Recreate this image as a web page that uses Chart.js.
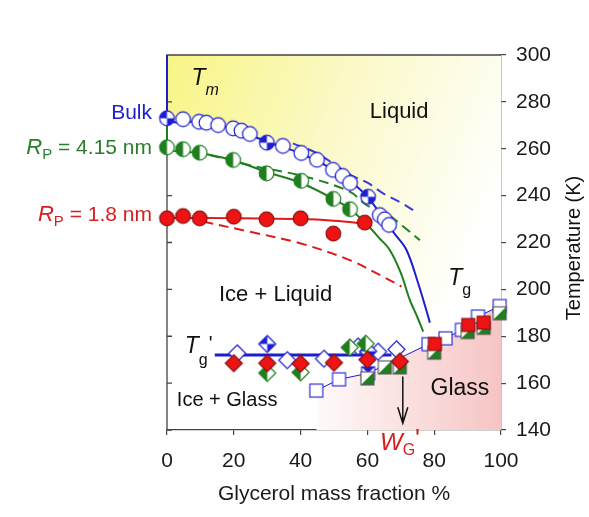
<!DOCTYPE html>
<html>
<head>
<meta charset="utf-8">
<style>
  html, body { margin: 0; padding: 0; background: #fff; }
  #caixa { width: 589px; height: 517px; position: relative; }
</style>
<script src="https://cdn.jsdelivr.net/npm/chart.js@4/dist/chart.umd.min.js"></script>
</head>
<body>
<div id="caixa"><canvas id="grafico"></canvas></div>
<script>
const ticksX = [0, 20, 40, 60, 80, 100];
const ticksY = [140, 160, 180, 200, 220, 240, 260, 280, 300];

// Tm - bulk (círculos abertos e círculos com quartos)
const bulkX = [4.8, 9.6, 11.8, 15.3, 19.8, 22.3, 24.8, 34.7, 40.2, 44.9, 49.7, 52.6, 54.8, 63.7, 65.2, 66.5];
const bulkT = [272.6, 271.5, 271.1, 270.1, 268.7, 267.7, 266.3, 261.2, 258.2, 255.3, 251, 248.4, 245.4, 231.7, 229.9, 227.5];
const bulkMeioX = [0, 29.9, 60.2];
const bulkMeioT = [273, 262.6, 239.5];

// Tm - Rp = 4.15 nm e Rp = 1.8 nm
const rp415X = [0, 4.8, 9.8, 19.8, 29.8, 40.2, 49.8, 54.8];
const rp415T = [260.6, 259.8, 258.3, 255.2, 249.5, 246.3, 238.6, 234.2];
const rp18X = [0, 4.8, 9.8, 20, 29.8, 40, 49.8, 59.2];
const rp18T = [230.3, 231.3, 230.3, 231, 229.9, 230.3, 223.8, 228.5];

// curvas de ajuste (linhas cheias)
const ajusteBulkX = [0, 0, 10, 20, 30, 40, 50, 55, 60, 65, 68, 71.7, 75.2, 78.2, 78.7];
const ajusteBulkT = [300, 273, 271.5, 268.5, 263, 258, 251, 246, 239.5, 230, 224, 216.8, 202.6, 188.4, 185.8];
const ajuste415X = [0, 0, 10, 20, 30, 40, 50, 55, 60, 63.5, 66.7, 70, 72.7, 75, 76.7];
const ajuste415T = [273, 260.6, 258.2, 255, 250, 245.5, 238.5, 234, 227.5, 222, 216.8, 207, 195.5, 188, 182];
const ajuste18X = [0, 20, 40, 50, 60];
const ajuste18T = [230.5, 230.4, 230, 229.3, 228];

// curvas tracejadas
const tracoBulkX = [37.7, 45, 54.7, 60, 64.7, 70, 75.2];
const tracoBulkT = [262.3, 258, 249, 245.5, 241, 237, 232.5];
const traco415X = [12.8, 24.8, 41.7, 54.7, 59.7, 66, 71, 75.7];
const traco415T = [257.3, 253, 248, 241.7, 236, 232, 226.5, 221];
const traco18X = [10.8, 24.8, 39.8, 54.7, 64.7, 70.2];
const traco18T = [228.9, 224.6, 219.7, 212.5, 205.4, 201.2];

// Tg' (losangos)
const tglLinhaX = [14.3, 67.2];
const tglLinhaT = [172, 172];
const tglBulkX = [21, 36, 47, 57.2, 63.2, 68.7];
const tglBulkT = [172.7, 169.8, 170.4, 175.6, 173.4, 174.4];
const tglBulkMeioX = [30, 60.2];
const tglBulkMeioT = [176.7, 173.6];
const tgl415X = [30, 40, 54.7, 59.5];
const tgl415T = [164.3, 164.6, 175.2, 176.8];
const tgl18X = [20, 30, 40, 50, 60, 69.7];
const tgl18T = [168.5, 168.5, 168.3, 168.7, 170, 169.2];

// Tg (quadrados)
const tgBulkX = [44.7, 51.5, 60.2, 78.3, 83.4, 88.3, 93.1, 99.6];
const tgBulkT = [156.8, 161.6, 164.2, 176.6, 179.1, 182.7, 188.4, 192.9];
const tg415X = [60, 65.2, 69.7, 80, 90, 94.8, 99.6];
const tg415T = [162, 166.7, 166.7, 173, 181.8, 183.6, 189.8];
const tg18X = [80.2, 90.2, 94.8];
const tg18T = [176.7, 184.8, 185.8];

// limites das regiões coloridas
const liquidoX = [0, 10, 20, 30, 40, 50, 55, 60, 65, 68, 71.7, 75.2, 78.2, 78.7, 78.3, 83.4, 88.3, 93.1, 99.6, 100];
const liquidoT = [273, 271.5, 268.5, 263, 258, 251, 246, 239.5, 230, 224, 216.8, 202.6, 188.4, 185.8, 176.6, 179.1, 182.7, 188.4, 192.9, 193.2];
const vidroX = [44.7, 51.5, 60.2, 78.3, 83.4, 88.3, 93.1, 99.6, 100];
const vidroT = [156.8, 161.6, 164.2, 176.6, 179.1, 182.7, 188.4, 192.9, 193.2];

const AZUL = '#1d1dd2';
const VERDE = '#1f7f1f';
const VERMELHO = '#ee1414';
const FONTE = '"Liberation Sans", Arial, sans-serif';

function pontos(xs, ts) {
  return xs.map((x, i) => ({ x: x, y: ts[i] }));
}

function novoMarcador(tam, desenho) {
  const c = document.createElement('canvas');
  c.width = tam;
  c.height = tam;
  desenho(c.getContext('2d'), tam / 2);
  return c;
}

function circulo(cor, tipo) {
  return novoMarcador(19, (g, c) => {
    const r = 7.3;
    g.beginPath(); g.arc(c, c, r, 0, Math.PI * 2);
    g.fillStyle = tipo === 'cheio' ? cor : '#fff';
    g.fill();
    g.fillStyle = cor;
    if (tipo === 'quartos') {
      g.beginPath(); g.moveTo(c, c); g.arc(c, c, r, Math.PI, Math.PI * 1.5); g.closePath(); g.fill();
      g.beginPath(); g.moveTo(c, c); g.arc(c, c, r, 0, Math.PI * 0.5); g.closePath(); g.fill();
    }
    if (tipo === 'meio') {
      g.beginPath(); g.moveTo(c, c); g.arc(c, c, r, Math.PI * 0.5, Math.PI * 1.5); g.closePath(); g.fill();
    }
    g.beginPath(); g.arc(c, c, r, 0, Math.PI * 2);
    g.lineWidth = 1.2;
    g.strokeStyle = tipo === 'cheio' ? '#8a1010' : cor;
    g.stroke();
  });
}

function losango(cor, tipo) {
  return novoMarcador(21, (g, c) => {
    const h = 8.5;
    const caminho = () => {
      g.beginPath(); g.moveTo(c, c - h); g.lineTo(c + h, c); g.lineTo(c, c + h); g.lineTo(c - h, c); g.closePath();
    };
    caminho();
    g.fillStyle = tipo === 'cheio' ? cor : '#fff';
    g.fill();
    g.fillStyle = cor;
    if (tipo === 'quartos') {
      g.beginPath(); g.moveTo(c, c); g.lineTo(c, c - h); g.lineTo(c - h, c); g.closePath(); g.fill();
      g.beginPath(); g.moveTo(c, c); g.lineTo(c + h, c); g.lineTo(c, c + h); g.closePath(); g.fill();
    }
    if (tipo === 'meio') {
      g.beginPath(); g.moveTo(c, c - h); g.lineTo(c, c + h); g.lineTo(c - h, c); g.closePath(); g.fill();
    }
    caminho();
    g.lineWidth = 1.2;
    g.strokeStyle = tipo === 'cheio' ? '#8a1010' : cor;
    g.stroke();
  });
}

function quadrado(cor, tipo) {
  return novoMarcador(17, (g, c) => {
    const a = 6.5;
    const x0 = c - a, x1 = c + a, y0 = c - a, y1 = c + a;
    g.fillStyle = tipo === 'cheio' ? cor : '#fff';
    g.fillRect(x0, y0, 2 * a, 2 * a);
    g.fillStyle = cor;
    if (tipo === 'laco') {
      g.beginPath(); g.moveTo(x0, y0); g.lineTo(x1, y0); g.lineTo(c, c); g.closePath(); g.fill();
      g.beginPath(); g.moveTo(x0, y1); g.lineTo(x1, y1); g.lineTo(c, c); g.closePath(); g.fill();
    }
    if (tipo === 'meio') {
      g.beginPath(); g.moveTo(x1, y0); g.lineTo(x1, y1); g.lineTo(x0, y1); g.closePath(); g.fill();
    }
    g.lineWidth = 1.1;
    g.strokeStyle = tipo === 'cheio' ? '#8a1010' : (tipo === 'meio' ? '#555' : cor);
    g.strokeRect(x0, y0, 2 * a, 2 * a);
  });
}

function marcadores(xs, ts, estilo) {
  return {
    type: 'scatter',
    data: pontos(xs, ts),
    pointStyle: estilo,
    pointRadius: 8,
    clip: false
  };
}

function curva(xs, ts, cor, tracejado, largura) {
  return {
    type: 'line',
    data: pontos(xs, ts),
    borderColor: cor,
    borderWidth: largura || 2,
    borderDash: tracejado ? [10, 6] : [],
    pointRadius: 0,
    tension: 0.35,
    fill: false,
    clip: false
  };
}

function fundoLiquido(ctx) {
  const area = ctx.chart.chartArea;
  if (!area) return 'transparent';
  const gr = ctx.chart.ctx.createLinearGradient(area.left, area.top, area.right, area.top + 140);
  gr.addColorStop(0, '#f8f585');
  gr.addColorStop(0.5, '#fbf9c8');
  gr.addColorStop(1, '#ffffff');
  return gr;
}

function fundoVidro(ctx) {
  const chart = ctx.chart;
  if (!chart.chartArea) return 'transparent';
  const esc = chart.scales.x;
  const gr = chart.ctx.createLinearGradient(esc.getPixelForValue(40), 0, esc.getPixelForValue(100), 0);
  gr.addColorStop(0, '#ffffff');
  gr.addColorStop(1, '#f6c4c4');
  return gr;
}

function escrever(ctx, partes, x, y, alinhar) {
  const fonte = (p) => (p.i ? 'italic ' : '') + p.s + 'px ' + FONTE;
  let largura = 0;
  partes.forEach((p) => { ctx.font = fonte(p); largura += ctx.measureText(p.t).width; });
  let cx = x;
  if (alinhar === 'right') cx = x - largura;
  if (alinhar === 'center') cx = x - largura / 2;
  ctx.textAlign = 'left';
  ctx.textBaseline = 'middle';
  partes.forEach((p) => {
    ctx.font = fonte(p);
    ctx.fillStyle = p.c || '#111';
    ctx.fillText(p.t, cx + (p.dx || 0), y + (p.dy || 0));
    cx += ctx.measureText(p.t).width + (p.dx || 0);
  });
}

const moldura = {
  id: 'moldura',
  beforeDatasetsDraw(chart) {
    const ctx = chart.ctx;
    const a = chart.chartArea;
    const ey = chart.scales.y;
    ctx.save();
    ctx.strokeStyle = '#444';
    ctx.lineWidth = 1.3;
    ctx.beginPath();
    ctx.moveTo(a.left, a.bottom);
    ctx.lineTo(a.left, a.top);
    ctx.lineTo(a.right, a.top);
    ticksY.forEach((v) => {
      const py = ey.getPixelForValue(v);
      ctx.moveTo(a.left, py);
      ctx.lineTo(a.left + 5, py);
    });
    ctx.stroke();
    ctx.restore();
  },
  afterDatasetsDraw(chart) {
    const ctx = chart.ctx;
    const ex = chart.scales.x;
    const ey = chart.scales.y;
    const px = (v) => ex.getPixelForValue(v);
    const py = (v) => ey.getPixelForValue(v);
    ctx.save();

    escrever(ctx, [{ t: 'T', s: 23, i: true }, { t: 'm', s: 16, i: true, dy: 12 }], px(7.3), py(290), 'left');
    escrever(ctx, [{ t: 'Liquid', s: 22 }], px(69.5), py(275.5), 'center');
    escrever(ctx, [{ t: 'Ice + Liquid', s: 22 }], px(32.5), py(197.5), 'center');
    escrever(ctx, [{ t: 'T', s: 23, i: true }, { t: 'g', s: 16, dy: 12 }], px(84.2), py(204.5), 'left');
    escrever(ctx, [{ t: 'T', s: 23, i: true }, { t: 'g', s: 16, dy: 14 }, { t: "'", s: 20, dy: -2, dx: 1 }], px(5.3), py(175.5), 'left');
    escrever(ctx, [{ t: 'Ice + Glass', s: 20 }], px(18), py(152.5), 'center');
    escrever(ctx, [{ t: 'Glass', s: 23 }], px(87.7), py(157.5), 'center');

    // seta para W_G'
    ctx.strokeStyle = '#111';
    ctx.lineWidth = 1.5;
    const sx = px(70.6);
    const topo = py(162.8);
    const ponta = py(142.9);
    ctx.beginPath();
    ctx.moveTo(sx, topo); ctx.lineTo(sx, ponta);
    ctx.moveTo(sx - 5, ponta - 16); ctx.lineTo(sx, ponta); ctx.lineTo(sx + 5, ponta - 16);
    ctx.stroke();

    escrever(ctx, [
      { t: 'W', s: 24, i: true, c: '#d42020' },
      { t: 'G', s: 16, dy: 8, c: '#d42020' },
      { t: "'", s: 26, dy: -3, c: '#d42020' }
    ], 380, 443, 'left');

    escrever(ctx, [{ t: 'Bulk', s: 21, c: AZUL }], 152, 113, 'right');
    escrever(ctx, [{ t: 'R', s: 22, i: true, c: '#2a7d2a' }, { t: 'P', s: 15, dy: 7, c: '#2a7d2a' }, { t: ' = 4.15 nm', s: 21, c: '#2a7d2a' }], 152, 148, 'right');
    escrever(ctx, [{ t: 'R', s: 22, i: true, c: '#d42020' }, { t: 'P', s: 15, dy: 7, c: '#d42020' }, { t: ' = 1.8 nm', s: 21, c: '#d42020' }], 152, 215, 'right');

    // título do eixo y (lido de baixo para cima)
    ctx.translate(574, 248);
    ctx.rotate(-Math.PI / 2);
    escrever(ctx, [{ t: 'Temperature (K)', s: 20 }], 0, 0, 'center');
    ctx.restore();
  }
};

const estilos = {
  circAberto: circulo(AZUL, 'aberto'),
  circQuartos: circulo(AZUL, 'quartos'),
  circVerde: circulo(VERDE, 'meio'),
  circVermelho: circulo(VERMELHO, 'cheio'),
  losAberto: losango(AZUL, 'aberto'),
  losQuartos: losango(AZUL, 'quartos'),
  losVerde: losango(VERDE, 'meio'),
  losVermelho: losango(VERMELHO, 'cheio'),
  quadAberto: quadrado(AZUL, 'aberto'),
  quadLaco: quadrado(AZUL, 'laco'),
  quadVerde: quadrado(VERDE, 'meio'),
  quadVermelho: quadrado(VERMELHO, 'cheio')
};

const linhaTg = {
  type: 'line',
  data: pontos(tgBulkX, tgBulkT),
  borderColor: AZUL,
  borderWidth: 1,
  pointStyle: tgBulkX.map((x) => (x === 60.2 ? estilos.quadLaco : estilos.quadAberto)),
  pointRadius: 8,
  tension: 0,
  fill: false,
  clip: false
};

const datasets = [
  marcadores(tgl18X, tgl18T, estilos.losVermelho),
  marcadores(tg18X, tg18T, estilos.quadVermelho),
  marcadores(rp18X, rp18T, estilos.circVermelho),
  marcadores(tgl415X, tgl415T, estilos.losVerde),
  marcadores(tg415X, tg415T, estilos.quadVerde),
  marcadores(rp415X, rp415T, estilos.circVerde),
  marcadores(bulkMeioX, bulkMeioT, estilos.circQuartos),
  marcadores(bulkX, bulkT, estilos.circAberto),
  marcadores(tglBulkMeioX, tglBulkMeioT, estilos.losQuartos),
  marcadores(tglBulkX, tglBulkT, estilos.losAberto),
  linhaTg,
  curva(tglLinhaX, tglLinhaT, AZUL, false, 3),
  curva(ajuste18X, ajuste18T, '#e01818', false, 2),
  curva(ajuste415X, ajuste415T, VERDE, false, 2),
  curva(ajusteBulkX, ajusteBulkT, AZUL, false, 2),
  curva(traco18X, traco18T, '#e01818', true, 2),
  curva(traco415X, traco415T, VERDE, true, 2),
  curva(tracoBulkX, tracoBulkT, '#3a3ad8', true, 2),
  {
    type: 'line',
    data: pontos(liquidoX, liquidoT),
    borderWidth: 0,
    pointRadius: 0,
    tension: 0,
    fill: 'end',
    backgroundColor: fundoLiquido
  },
  {
    type: 'line',
    data: pontos(vidroX, vidroT),
    borderWidth: 0,
    pointRadius: 0,
    tension: 0,
    fill: 'start',
    backgroundColor: fundoVidro
  }
];

const fonteTicks = { family: FONTE, size: 21 };

new Chart(document.getElementById('grafico'), {
  type: 'scatter',
  data: { datasets: datasets },
  options: {
    responsive: true,
    maintainAspectRatio: false,
    animation: false,
    layout: { padding: { left: 167, top: 55, right: 0, bottom: 0 } },
    plugins: {
      legend: { display: false },
      tooltip: { enabled: false },
      filler: { drawTime: 'beforeDatasetsDraw' }
    },
    scales: {
      x: {
        type: 'linear',
        min: 0,
        max: 100,
        afterBuildTicks: (s) => { s.ticks = ticksX.map((v) => ({ value: v })); },
        afterFit: (s) => { s.height = 87; },
        ticks: { font: fonteTicks, color: '#1a1a1a', padding: 14, maxRotation: 0 },
        grid: { drawOnChartArea: false, tickLength: 5, color: '#444', lineWidth: 1.2 },
        border: { color: '#444', width: 1.3 },
        title: {
          display: true,
          text: 'Glycerol mass fraction %',
          font: { family: FONTE, size: 21 },
          color: '#1a1a1a',
          padding: { top: 0, bottom: 10 }
        }
      },
      y: {
        type: 'linear',
        position: 'right',
        min: 140,
        max: 300,
        afterBuildTicks: (s) => { s.ticks = ticksY.map((v) => ({ value: v })); },
        afterFit: (s) => { s.width = 88; },
        ticks: { font: fonteTicks, color: '#1a1a1a', padding: 10 },
        grid: { drawOnChartArea: false, tickLength: 5, color: '#444', lineWidth: 1.2 },
        border: { color: '#444', width: 1.3 }
      }
    }
  },
  plugins: [moldura]
});
</script>
</body>
</html>
